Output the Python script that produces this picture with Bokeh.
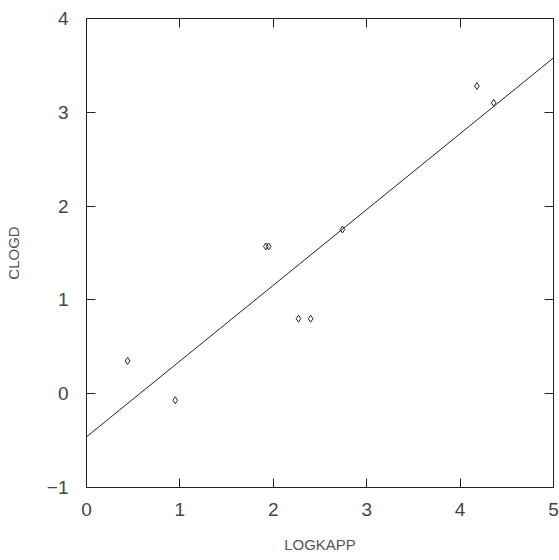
from bokeh.plotting import figure
from bokeh.models import LinearAxis, Range1d, FixedTicker, CustomLabelingPolicy
from bokeh.embed import file_html
from bokeh.resources import INLINE

logkapp = [0.44, 0.95, 1.92, 1.95, 2.27, 2.40, 2.74, 4.18, 4.36]
clogd = [0.35, -0.07, 1.57, 1.57, 0.80, 0.80, 1.75, 3.28, 3.10]
fit_x = [0.0, 5.0]
fit_y = [-0.46, 3.58]
x_ticks = [0, 1, 2, 3, 4, 5]
y_ticks = [-1, 0, 1, 2, 3, 4]

FONT = "Liberation Sans"
INK = "#222222"

p = figure(width=559, height=560, output_backend="svg", toolbar_location=None,
           x_range=Range1d(0, 5), y_range=Range1d(-1, 4),
           min_border_left=86, min_border_right=6, min_border_top=18, min_border_bottom=73,
           x_axis_label="LOGKAPP", y_axis_label="CLOGD")
p.xgrid.visible = False
p.ygrid.visible = False
p.outline_line_color = INK
p.outline_line_width = 1
p.background_fill_color = "white"
p.border_fill_color = "white"

p.line(fit_x, fit_y, line_color="#222222", line_width=1)
p.scatter(logkapp, clogd, marker="diamond", size=7, fill_color=None,
          line_color="#222222", line_width=1)

for ax, ticks in ((p.xaxis[0], x_ticks), (p.yaxis[0], y_ticks)):
    ax.ticker = FixedTicker(ticks=ticks)
    ax.minor_tick_line_color = None
    ax.major_tick_in = 9
    ax.major_tick_out = 0
    ax.major_tick_line_color = INK
    ax.axis_line_color = INK
    ax.major_label_text_font = FONT
    ax.major_label_text_font_size = "19px"
    ax.major_label_text_color = "#444444"
    ax.axis_label_text_font = FONT
    ax.axis_label_text_font_size = "15px"
    ax.axis_label_text_font_style = "normal"
    ax.axis_label_text_color = "#555555"

p.xaxis[0].major_label_standoff = 15
p.xaxis[0].axis_label_standoff = 17
p.yaxis[0].major_label_standoff = 18
p.yaxis[0].axis_label_standoff = 22
p.yaxis[0].major_label_overrides = {-1: "\u22121"}

top = LinearAxis(ticker=FixedTicker(ticks=x_ticks))
right = LinearAxis(ticker=FixedTicker(ticks=y_ticks))
for ax in (top, right):
    ax.minor_tick_line_color = None
    ax.major_tick_in = 9
    ax.major_tick_out = 0
    ax.major_tick_line_color = INK
    ax.axis_line_color = INK
    ax.major_label_text_font_size = "1px"
    ax.major_label_standoff = 0
    ax.major_label_policy = CustomLabelingPolicy(code="return [];")
p.add_layout(top, "above")
p.add_layout(right, "right")

open("out.html", "w").write(file_html(p, INLINE))
